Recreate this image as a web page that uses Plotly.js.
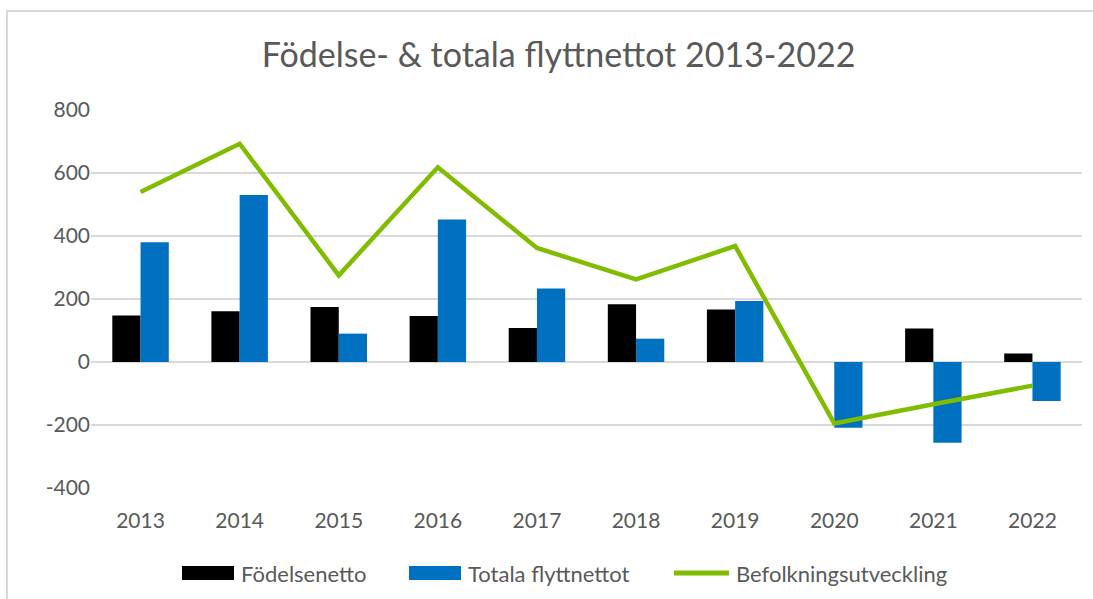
<!DOCTYPE html>
<html>
<head>
<meta charset="utf-8">
<script src="https://cdn.plot.ly/plotly-3.0.1.min.js"></script>
<style>
  html, body { margin: 0; padding: 0; background: #ffffff; }
  #chart { width: 1093px; height: 599px; }
  #frame { position: absolute; left: 6px; top: 10px; width: 1200px; height: 700px;
           border-left: 2px solid #d9d9d9; border-top: 2px solid #d9d9d9; pointer-events: none; }
</style>
</head>
<body>
<div id="chart"></div>
<div id="frame"></div>
<script>
const years = ["2013","2014","2015","2016","2017","2018","2019","2020","2021","2022"];
const fodelsenetto = [148, 161, 175, 146, 108, 183, 167, 0, 106, 27];
const flyttnetto = [380, 530, 90, 452, 233, 74, 194, -209, -256, -124];
const befolkning = [540, 693, 275, 618, 362, 262, 368, -195, -134, -75];
const yTicks = [-400, -200, 0, 200, 400, 600, 800];
const seriesNames = ["Födelsenetto", "Totala flyttnettot", "Befolkningsutveckling"];
const seriesColors = ["#000000", "#0070C0", "#80BC00"];

const font = "Lato, 'Open Sans', sans-serif";
const traces = [
  { type: "bar", name: seriesNames[0], x: years, y: fodelsenetto,
    marker: { color: seriesColors[0] } },
  { type: "bar", name: seriesNames[1], x: years, y: flyttnetto,
    marker: { color: seriesColors[1] } },
  { type: "scatter", mode: "lines", name: seriesNames[2], x: years, y: befolkning,
    line: { color: seriesColors[2], width: 4.5 } }
];

// plot area in pixels
const W = 1093, H = 599;
const PL = 91, PR = 1082, PT = 110, PB = 488;
const px = v => (v - PL) / (PR - PL);
const py = v => (PB - v) / (PB - PT);

// custom legend (wide swatches like the reference)
const legY = 573;
const legendItems = [
  { sw: [182, 234], tx: 239, kind: "rect" },
  { sw: [409, 461], tx: 466, kind: "rect" },
  { sw: [674, 729], tx: 734, kind: "line" }
];
const shapes = [], annotations = [];
legendItems.forEach((it, i) => {
  if (it.kind === "rect") {
    shapes.push({ type: "rect", xref: "paper", yref: "paper",
      x0: px(it.sw[0]), x1: px(it.sw[1]), y0: py(legY + 7), y1: py(legY - 7),
      fillcolor: seriesColors[i], line: { width: 0 } });
  } else {
    shapes.push({ type: "line", xref: "paper", yref: "paper",
      x0: px(it.sw[0]), x1: px(it.sw[1]), y0: py(legY), y1: py(legY),
      line: { color: seriesColors[i], width: 5 } });
  }
  annotations.push({ xref: "paper", yref: "paper", x: px(it.tx), y: py(legY),
    xanchor: "left", yanchor: "middle", showarrow: false, text: seriesNames[i],
    font: { family: font, size: 22, color: "#595959" } });
});

const layout = {
  width: W, height: H,
  paper_bgcolor: "#ffffff", plot_bgcolor: "#ffffff",
  margin: { l: PL, r: W - PR, t: PT, b: H - PB },
  font: { family: font, color: "#595959", size: 21 },
  title: { text: "Födelse- & totala flyttnettot 2013-2022", x: 0.511, xanchor: "center",
           y: 0.908, yanchor: "middle", font: { family: font, size: 34, color: "#595959" } },
  barmode: "group", bargap: 0.43, bargroupgap: 0,
  xaxis: { type: "category", showgrid: false, zeroline: false, showline: false,
           ticks: "", tickfont: { size: 21, color: "#595959" }, ticklabelstandoff: 18 },
  yaxis: { range: [-400, 800], tickvals: yTicks, ticktext: yTicks.map(String),
           showgrid: true, gridcolor: "#d9d9d9", gridwidth: 1.5,
           zeroline: true, zerolinecolor: "#d9d9d9", zerolinewidth: 1.5,
           showline: false, ticks: "", tickfont: { size: 21, color: "#595959" }, ticklabelstandoff: 0 },
  showlegend: false,
  shapes: shapes,
  annotations: annotations
};

Plotly.newPlot("chart", traces, layout, { displayModeBar: false, staticPlot: true });
</script>
</body>
</html>
